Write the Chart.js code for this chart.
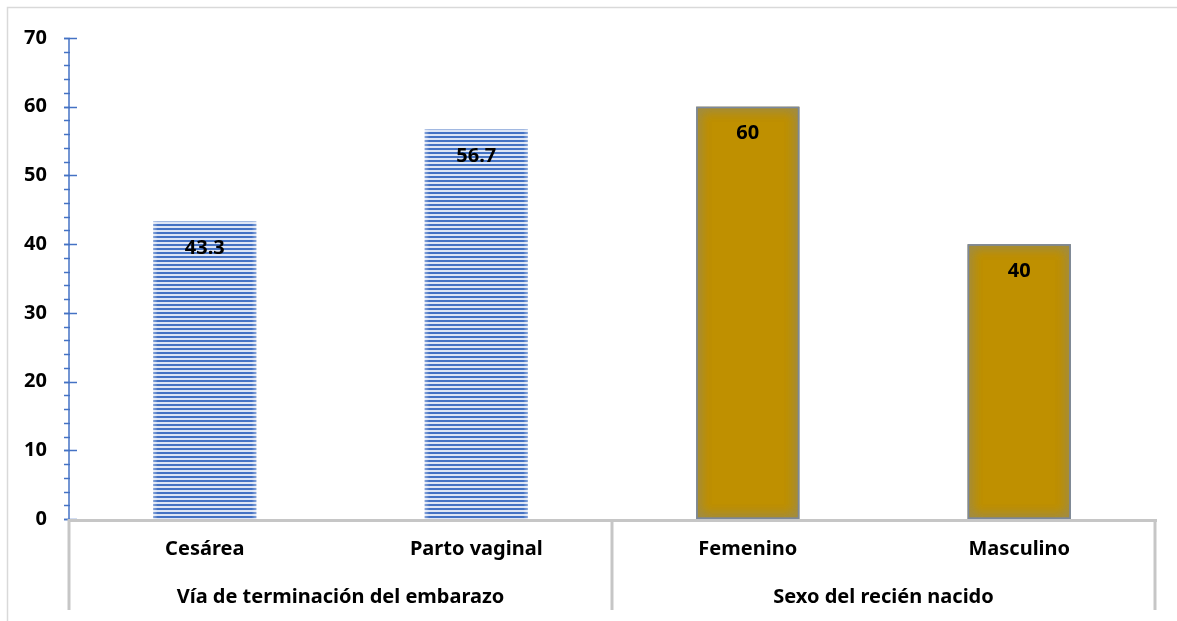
<!DOCTYPE html>
<html>
<head>
<meta charset="utf-8">
<script src="https://cdn.jsdelivr.net/npm/chart.js@4"></script>
<style>
  html,body{margin:0;padding:0;background:#fff;}
  #wrap{width:1177px;height:621px;position:relative;}
</style>
</head>
<body>
<div id="wrap"><canvas id="chart"></canvas></div>
<script>
const categories = ['Cesárea','Parto vaginal','Femenino','Masculino'];
const groups = ['Vía de terminación del embarazo','Sexo del recién nacido'];
const groupSizes = [2,2];
const percentages = [43.3,56.7,60,40];
const valueLabels = ['43.3','56.7','60','40'];
const yMax = 70, yStep = 10, yMinorStep = 2;

const FONT = '"Noto Sans", "Open Sans", sans-serif';
const BLUE = '#4472C4';
const GOLD = '#BF9000';
const GRID_GRAY = '#c6c6c6';

// horizontal stripes for the first group
function stripes(){
  const c=document.createElement('canvas'); c.width=4; c.height=4;
  const g=c.getContext('2d');
  g.fillStyle='#dde5f5'; g.fillRect(0,0,4,4);
  g.fillStyle=BLUE; g.fillRect(0,0,4,2);
  return g.createPattern(c,'repeat');
}
const stripe = stripes();
const fills = categories.map((c,i)=> i<groupSizes[0] ? stripe : GOLD);

// frame + y axis with major/minor ticks
const axisPlugin={
  id:'axisPlugin',
  beforeDraw(chart){
    const {ctx}=chart;
    ctx.save();
    ctx.strokeStyle='#d9d9d9'; ctx.lineWidth=1.5;
    ctx.strokeRect(7.5,7.5,1200,700);
    ctx.restore();
  },
  afterDatasetsDraw(chart){
    const {ctx,chartArea:a,scales:{y}}=chart;
    ctx.save();
    ctx.strokeStyle=BLUE; ctx.lineWidth=1.5;
    ctx.beginPath(); ctx.moveTo(a.left,y.getPixelForValue(yMax)); ctx.lineTo(a.left,y.getPixelForValue(0)); ctx.stroke();
    for(let v=0; v<=yMax; v+=yMinorStep){
      const py=Math.round(y.getPixelForValue(v))+0.5;
      ctx.beginPath(); ctx.moveTo(a.left-5,py); ctx.lineTo(a.left+1,py); ctx.stroke();
    }
    for(let v=0; v<=yMax; v+=yStep){
      const py=Math.round(y.getPixelForValue(v))+0.5;
      ctx.beginPath(); ctx.moveTo(a.left-5,py); ctx.lineTo(a.left+8,py); ctx.stroke();
    }
    ctx.restore();
  }
};

// soft edges on the bars
const edgePlugin={
  id:'edgePlugin',
  afterDatasetsDraw(chart){
    const {ctx}=chart;
    chart.getDatasetMeta(0).data.forEach((bar,i)=>{
      const l=bar.x-bar.width/2, r=bar.x+bar.width/2, t=bar.y, b=bar.base;
      ctx.save();
      if(i<groupSizes[0]){
        for(let k=0;k<4;k++){
          ctx.fillStyle=`rgba(255,255,255,${0.35-k*0.08})`;
          ctx.fillRect(l+k,t,1,b-t); ctx.fillRect(r-k-1,t,1,b-t);
        }
      }else{
        // inner glow: clip to the bar and blur a stroke along its edge
        ctx.beginPath(); ctx.rect(l,t,r-l,b-t); ctx.clip();
        ctx.shadowColor='rgba(115,135,170,0.95)';
        ctx.shadowBlur=12;
        ctx.strokeStyle='rgba(122,136,160,0.8)';
        ctx.lineWidth=3;
        ctx.strokeRect(l,t,r-l,b-t);
        ctx.strokeRect(l,t,r-l,b-t);
      }
      ctx.restore();
    });
  }
};

// value labels just inside the top of each bar
const labelPlugin={
  id:'labelPlugin',
  afterDatasetsDraw(chart){
    const {ctx}=chart;
    ctx.save();
    ctx.font='bold 20px '+FONT; ctx.fillStyle='#000';
    ctx.textAlign='center'; ctx.textBaseline='middle';
    chart.getDatasetMeta(0).data.forEach((bar,i)=>{
      ctx.fillText(valueLabels[i],bar.x,bar.y+27);
    });
    ctx.restore();
  }
};

// two-level category table under the plot
const tablePlugin={
  id:'tablePlugin',
  afterDraw(chart){
    const {ctx,chartArea:a,scales:{x}}=chart;
    const bottom=610;
    const half=(x.getPixelForValue(1)-x.getPixelForValue(0))/2;
    ctx.save();
    ctx.strokeStyle=GRID_GRAY; ctx.lineWidth=3;
    ctx.beginPath(); ctx.moveTo(a.left,a.bottom+1.5); ctx.lineTo(a.right+2,a.bottom+1.5); ctx.stroke();
    const cuts=[a.left];
    let idx=0;
    groupSizes.forEach(n=>{ idx+=n; cuts.push(x.getPixelForValue(idx-1)+half); });
    cuts.forEach(cx=>{ ctx.beginPath(); ctx.moveTo(cx,a.bottom); ctx.lineTo(cx,bottom); ctx.stroke(); });
    ctx.fillStyle='#000'; ctx.textAlign='center'; ctx.textBaseline='middle';
    ctx.font='bold 20px '+FONT;
    categories.forEach((c,i)=>ctx.fillText(c,x.getPixelForValue(i),a.bottom+30));
    groups.forEach((g,i)=>ctx.fillText(g,(cuts[i]+cuts[i+1])/2,a.bottom+78));
    ctx.restore();
  }
};

new Chart(document.getElementById('chart'),{
  type:'bar',
  data:{labels:categories,datasets:[{data:percentages,backgroundColor:fills,borderWidth:0,barPercentage:0.38,categoryPercentage:1}]},
  options:{
    responsive:true,maintainAspectRatio:false,animation:false,
    layout:{padding:{left:0,right:22,top:38,bottom:102}},
    plugins:{legend:{display:false},tooltip:{enabled:false}},
    scales:{
      x:{display:false},
      y:{
        min:0,max:yMax,
        afterFit(s){ s.width=69; },
        border:{display:false},
        grid:{display:false,drawTicks:false},
        ticks:{stepSize:yStep,padding:22,color:'#000',font:{family:FONT,size:20,weight:'bold'}}
      }
    }
  },
  plugins:[axisPlugin,edgePlugin,labelPlugin,tablePlugin]
});
</script>
</body>
</html>
